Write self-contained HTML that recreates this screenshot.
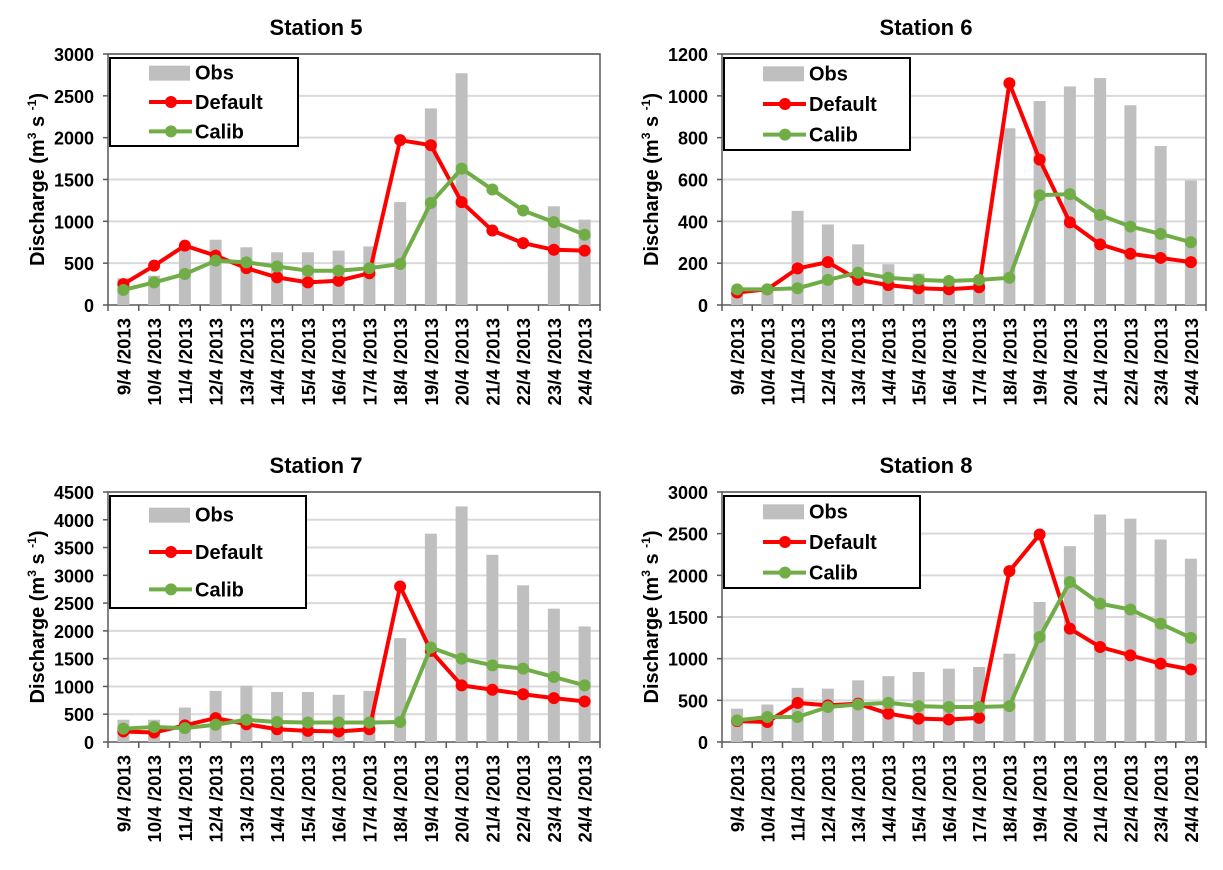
<!DOCTYPE html>
<html><head><meta charset="utf-8"><style>
body{margin:0;background:#fff;width:1223px;height:865px;overflow:hidden}
svg text{font-family:"Liberation Sans",Arial,sans-serif;font-weight:bold;fill:#000}
</style></head><body>
<svg id="svg" width="1223" height="865" xmlns="http://www.w3.org/2000/svg"></svg>
<script>
const categories=["9/4 /2013","10/4 /2013","11/4 /2013","12/4 /2013","13/4 /2013","14/4 /2013","15/4 /2013","16/4 /2013","17/4 /2013","18/4 /2013","19/4 /2013","20/4 /2013","21/4 /2013","22/4 /2013","23/4 /2013","24/4 /2013"];
const obs5=[320,350,700,780,690,630,630,650,700,1230,2350,2770,0,0,1180,1020];
const def5=[250,470,710,590,440,330,270,290,380,1970,1910,1230,890,740,660,650];
const cal5=[180,270,370,530,510,460,410,410,440,490,1220,1630,1380,1130,990,840];
const ticks5=[0,500,1000,1500,2000,2500,3000];
const obs6=[60,80,450,385,290,195,150,120,120,845,975,1045,1085,955,760,595];
const def6=[60,75,175,205,120,95,80,75,85,1060,695,395,290,245,225,205];
const cal6=[75,75,80,120,155,130,120,115,120,130,525,530,430,375,340,300];
const ticks6=[0,200,400,600,800,1000,1200];
const obs7=[400,400,620,920,1010,900,900,850,920,1870,3750,4240,3370,2820,2400,2080];
const def7=[190,170,300,430,320,230,200,190,230,2800,1640,1020,940,860,790,730];
const cal7=[240,270,250,310,400,360,350,350,350,360,1700,1500,1380,1320,1170,1020];
const ticks7=[0,500,1000,1500,2000,2500,3000,3500,4000,4500];
const obs8=[400,450,650,640,740,790,840,880,900,1060,1680,2350,2730,2680,2430,2200];
const def8=[250,240,470,440,460,340,280,270,290,2050,2490,1360,1140,1040,940,870];
const cal8=[260,300,300,420,450,470,430,420,420,430,1260,1920,1660,1590,1420,1250];
const ticks8=[0,500,1000,1500,2000,2500,3000];

const NS="http://www.w3.org/2000/svg";
const svg=document.getElementById('svg');
function mk(tag,attrs,parent,text){const e=document.createElementNS(NS,tag);for(const k in attrs)e.setAttribute(k,attrs[k]);if(text!==undefined)e.textContent=text;(parent||svg).appendChild(e);return e;}

function chart(cfg){
  const g=mk('g',{});
  
  
  const L=cfg.x0,R=cfg.x1,T=cfg.y0,B=cfg.y1,max=cfg.ticks[cfg.ticks.length-1];
  const n=categories.length,cw=(R-L)/n;
  const xs=i=>L+cw*(i+0.5);
  const ys=v=>B-(v/max)*(B-T);
  const t=mk('text',{x:(L+R)/2-38,y:T-19,'text-anchor':'middle','font-size':22},g,cfg.title);
  
  
  cfg.ticks.forEach(v=>{
    if(v>0){const gl=mk('line',{x1:L,x2:R,y1:ys(v),y2:ys(v),stroke:'#d9d9d9','stroke-width':2},g);
      
      }
    const tl=mk('text',{x:L-14,y:ys(v)+7,'text-anchor':'end','font-size':18},g,String(v));
    
    
    mk('line',{x1:L-5,x2:L,y1:ys(v),y2:ys(v),stroke:'#595959','stroke-width':1.5},g);
  });
  mk('rect',{x:L,y:T,width:R-L,height:B-T,fill:'none',stroke:'#595959','stroke-width':1.5},g);
  const yt=mk('text',{transform:`translate(${L-64},${(T+B)/2}) rotate(-90)`,'text-anchor':'middle','font-size':20},g);
  yt.innerHTML='Discharge (m<tspan font-size="12" dy="-8">3</tspan><tspan dy="8"> s </tspan><tspan font-size="12" dy="-8">-1</tspan><tspan dy="8">)</tspan>';
  
  
  for(let i=0;i<=n;i++) mk('line',{x1:L+cw*i,x2:L+cw*i,y1:B,y2:B+6,stroke:'#595959','stroke-width':1.5},g);
  cfg.obs.forEach((v,i)=>{
    const b=mk('rect',{x:xs(i)-6,y:ys(v),width:12,height:B-ys(v),fill:'#bfbfbf'},g);
    
    
  });
  categories.forEach((c,i)=>{
    const tx=mk('text',{transform:`translate(${xs(i)+7},${B+13}) rotate(-90)`,'text-anchor':'end','font-size':18.5},g,c);
    
    
  });
  [[cfg.def,'#ff0000','default'],[cfg.cal,'#70ad47','calib']].forEach(([arr,col,nm])=>{
    const pl=mk('polyline',{points:arr.map((v,i)=>xs(i)+','+ys(v)).join(' '),fill:'none',stroke:col,'stroke-width':4,'stroke-linejoin':'round'},g);
    
    
    arr.forEach((v,i)=>{
      const c=mk('circle',{cx:xs(i),cy:ys(v),r:6,fill:col},g);
      
      
    });
  });
  const lg=mk('g',{},g);
  
  
  const lx=L+2,ly=T+4;
  mk('rect',{x:lx,y:ly,width:cfg.lw,height:cfg.lh,fill:'#fff',stroke:'#000','stroke-width':2},lg);
  const rh=cfg.lh/3;
  mk('rect',{x:lx+39,y:ly+rh*0.5-7,width:41,height:15,fill:'#bfbfbf'},lg);
  mk('text',{x:lx+85,y:ly+rh*0.5+7,'font-size':20},lg,'Obs');
  [['#ff0000','Default'],['#70ad47','Calib']].forEach(([col,lab],k)=>{
    const cy=ly+rh*(k+1.5);
    mk('line',{x1:lx+39,x2:lx+82,y1:cy,y2:cy,stroke:col,'stroke-width':4},lg);
    mk('circle',{cx:lx+61,cy:cy,r:6,fill:col},lg);
    mk('text',{x:lx+85,y:cy+7,'font-size':20},lg,lab);
  });
}
chart({name:'station-5-chart',title:'Station 5',x0:108,x1:600,y0:54,y1:305,ticks:ticks5,obs:obs5,def:def5,cal:cal5,lw:188,lh:88});
chart({name:'station-6-chart',title:'Station 6',x0:722,x1:1206,y0:54,y1:305,ticks:ticks6,obs:obs6,def:def6,cal:cal6,lw:186,lh:92});
chart({name:'station-7-chart',title:'Station 7',x0:108,x1:600,y0:492,y1:742,ticks:ticks7,obs:obs7,def:def7,cal:cal7,lw:196,lh:112});
chart({name:'station-8-chart',title:'Station 8',x0:722,x1:1206,y0:492,y1:742,ticks:ticks8,obs:obs8,def:def8,cal:cal8,lw:196,lh:92});
</script>
</body></html>
